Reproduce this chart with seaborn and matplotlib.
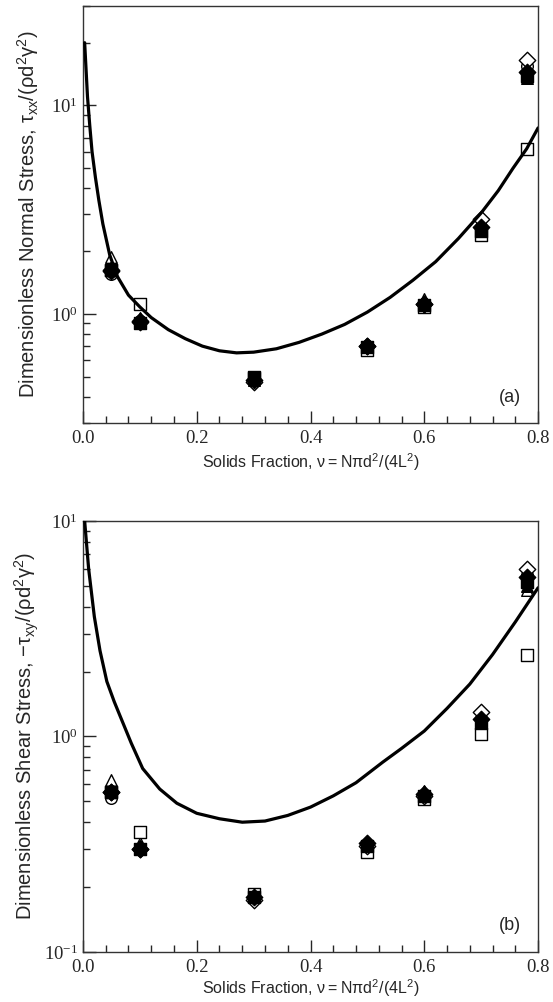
import numpy as np
import pandas as pd
import matplotlib
matplotlib.use("Agg")
import matplotlib.pyplot as plt
import matplotlib.ticker as mticker
import seaborn as sns

#------data--------------------------------------
nu = [0.05, 0.1, 0.3, 0.5, 0.6, 0.7, 0.78]

# normal stress, panel (a)
txx_circ_open = [1.55, 0.92, 0.48, 0.69, 1.10, 2.60, 15.5]
txx_circ_fill = [1.60, 0.90, 0.48, 0.70, 1.10, 2.55, 14.0]
txx_tri_open = [1.87, 0.96, 0.49, 0.71, 1.18, 2.80, 14.5]
txx_tri_fill = [1.65, 0.92, 0.48, 0.71, 1.14, 2.60, 13.5]
txx_sq_open = [1.62, 1.11, 0.50, 0.67, 1.08, 2.40, 6.2]
txx_sq_fill = [1.62, 0.90, 0.49, 0.69, 1.10, 2.50, 13.8]
txx_dia_open = [1.60, 0.92, 0.47, 0.70, 1.12, 2.85, 16.5]
txx_dia_fill = [1.62, 0.91, 0.48, 0.70, 1.11, 2.60, 14.5]

# shear stress, panel (b)
txy_circ_open = [0.52, 0.30, 0.18, 0.31, 0.53, 1.20, 5.6]
txy_circ_fill = [0.55, 0.30, 0.18, 0.31, 0.53, 1.15, 5.3]
txy_tri_open = [0.63, 0.32, 0.185, 0.32, 0.56, 1.30, 4.8]
txy_tri_fill = [0.56, 0.31, 0.18, 0.32, 0.55, 1.20, 5.0]
txy_sq_open = [0.55, 0.36, 0.185, 0.29, 0.51, 1.03, 2.4]
txy_sq_fill = [0.55, 0.30, 0.18, 0.31, 0.53, 1.15, 5.2]
txy_dia_open = [0.55, 0.30, 0.175, 0.31, 0.53, 1.30, 6.0]
txy_dia_fill = [0.55, 0.30, 0.18, 0.32, 0.54, 1.20, 5.5]

# theory curves
curve_a_x = [0.003, 0.008, 0.012, 0.016, 0.022, 0.028, 0.035, 0.047, 0.06, 0.08, 0.10,
             0.12, 0.15, 0.18, 0.21, 0.24, 0.27, 0.30, 0.34, 0.38, 0.42, 0.46, 0.50,
             0.54, 0.58, 0.62, 0.66, 0.70, 0.73, 0.756, 0.78, 0.80]
curve_a_y = [20, 11, 8.0, 6.0, 4.5, 3.5, 2.7, 1.92, 1.52, 1.23, 1.08,
             0.96, 0.84, 0.76, 0.70, 0.665, 0.65, 0.655, 0.68, 0.73, 0.80, 0.89, 1.02,
             1.20, 1.45, 1.78, 2.3, 3.05, 3.9, 5.0, 6.2, 7.8]

curve_b_x = [0.003, 0.01, 0.02, 0.03, 0.042, 0.055, 0.065, 0.085, 0.105, 0.135, 0.165, 0.20,
             0.24, 0.28, 0.32, 0.36, 0.40, 0.44, 0.48, 0.527, 0.56, 0.60, 0.64, 0.68,
             0.72, 0.76, 0.80]
curve_b_y = [10, 6.0, 3.6, 2.5, 1.8, 1.45, 1.25, 0.93, 0.71, 0.57, 0.49, 0.44,
             0.415, 0.40, 0.405, 0.43, 0.47, 0.53, 0.61, 0.76, 0.88, 1.06, 1.35, 1.75,
             2.4, 3.4, 4.9]

#------------------------------------------------

sns.set_style("ticks")
plt.rcParams['font.family'] = ['Liberation Sans', 'DejaVu Sans']
plt.rcParams['xtick.direction'] = 'in'
plt.rcParams['ytick.direction'] = 'in'

SERIF = 'Liberation Serif'
MS = 70


def draw_panel(ax, series, cx, cy, ylim, ylabel, tag, yticks, xlabelpad):
    # open markers first, filled ones on top
    for vals, mk, filled in series:
        if filled:
            sns.scatterplot(x=nu, y=vals, marker=mk, s=MS, color='black',
                            edgecolor='black', linewidth=1, ax=ax, zorder=3)
        else:
            sns.scatterplot(x=nu, y=vals, marker=mk, s=MS, color='white',
                            edgecolor='black', linewidth=1, ax=ax, zorder=2)
    sns.lineplot(x=cx, y=cy, color='black', linewidth=2.3, ax=ax, sort=False, zorder=4)

    ax.set_yscale('log')
    ax.set_xlim(0, 0.8)
    ax.set_ylim(*ylim)

    ax.xaxis.set_major_locator(mticker.MultipleLocator(0.2))
    ax.xaxis.set_minor_locator(mticker.MultipleLocator(0.04))
    ax.xaxis.set_major_formatter(mticker.FormatStrFormatter('%.1f'))
    ax.yaxis.set_major_locator(mticker.FixedLocator(yticks))
    ax.yaxis.set_minor_locator(mticker.LogLocator(subs=np.arange(2, 10)))
    ax.yaxis.set_minor_formatter(mticker.NullFormatter())
    ax.set_yticklabels([r'$\mathdefault{10^{%d}}$' % int(round(np.log10(t))) for t in yticks])

    ax.tick_params(which='major', length=9, width=1, top=False, right=False)
    ax.tick_params(axis='x', which='major', pad=5)
    ax.tick_params(which='minor', length=5, width=1, top=False, right=False)
    for lab in ax.get_xticklabels() + ax.get_yticklabels():
        lab.set_fontfamily(SERIF)
        lab.set_fontsize(13.5)

    for sp in ax.spines.values():
        sp.set_visible(True)
        sp.set_color('#333333')
        sp.set_linewidth(1)

    ax.set_xlabel(r'Solids Fraction, $\mathregular{\nu=N\pi d^2/(4L^2)}$', fontsize=11.5,
                  labelpad=xlabelpad)
    ax.set_ylabel(ylabel, fontsize=14.5)
    ax.yaxis.set_label_coords(-0.092, 0.5)
    ax.text(0.938, 0.062, tag, transform=ax.transAxes, fontsize=13, ha='center', va='center')


fig = plt.figure(figsize=(5.53, 10.02), dpi=100)
ax1 = fig.add_axes([0.150, 0.578, 0.823, 0.416])
ax2 = fig.add_axes([0.150, 0.050, 0.823, 0.430])

series_a = [(txx_circ_open, 'o', False), (txx_tri_open, '^', False), (txx_sq_open, 's', False),
            (txx_dia_open, 'D', False), (txx_circ_fill, 'o', True), (txx_tri_fill, '^', True),
            (txx_sq_fill, 's', True), (txx_dia_fill, 'D', True)]
series_b = [(txy_circ_open, 'o', False), (txy_tri_open, '^', False), (txy_sq_open, 's', False),
            (txy_dia_open, 'D', False), (txy_circ_fill, 'o', True), (txy_tri_fill, '^', True),
            (txy_sq_fill, 's', True), (txy_dia_fill, 'D', True)]

draw_panel(ax1, series_a, curve_a_x, curve_a_y, (0.3, 30),
           r'Dimensionless Normal Stress, $\mathregular{\tau_{xx}/(\rho d^2\gamma^2)}$', '(a)', [1, 10], 3)
draw_panel(ax2, series_b, curve_b_x, curve_b_y, (0.1, 10),
           r'Dimensionless Shear Stress, $\mathregular{-\tau_{xy}/(\rho d^2\gamma^2)}$', '(b)', [0.1, 1, 10], 1)

fig.savefig('out.png', dpi=100)
